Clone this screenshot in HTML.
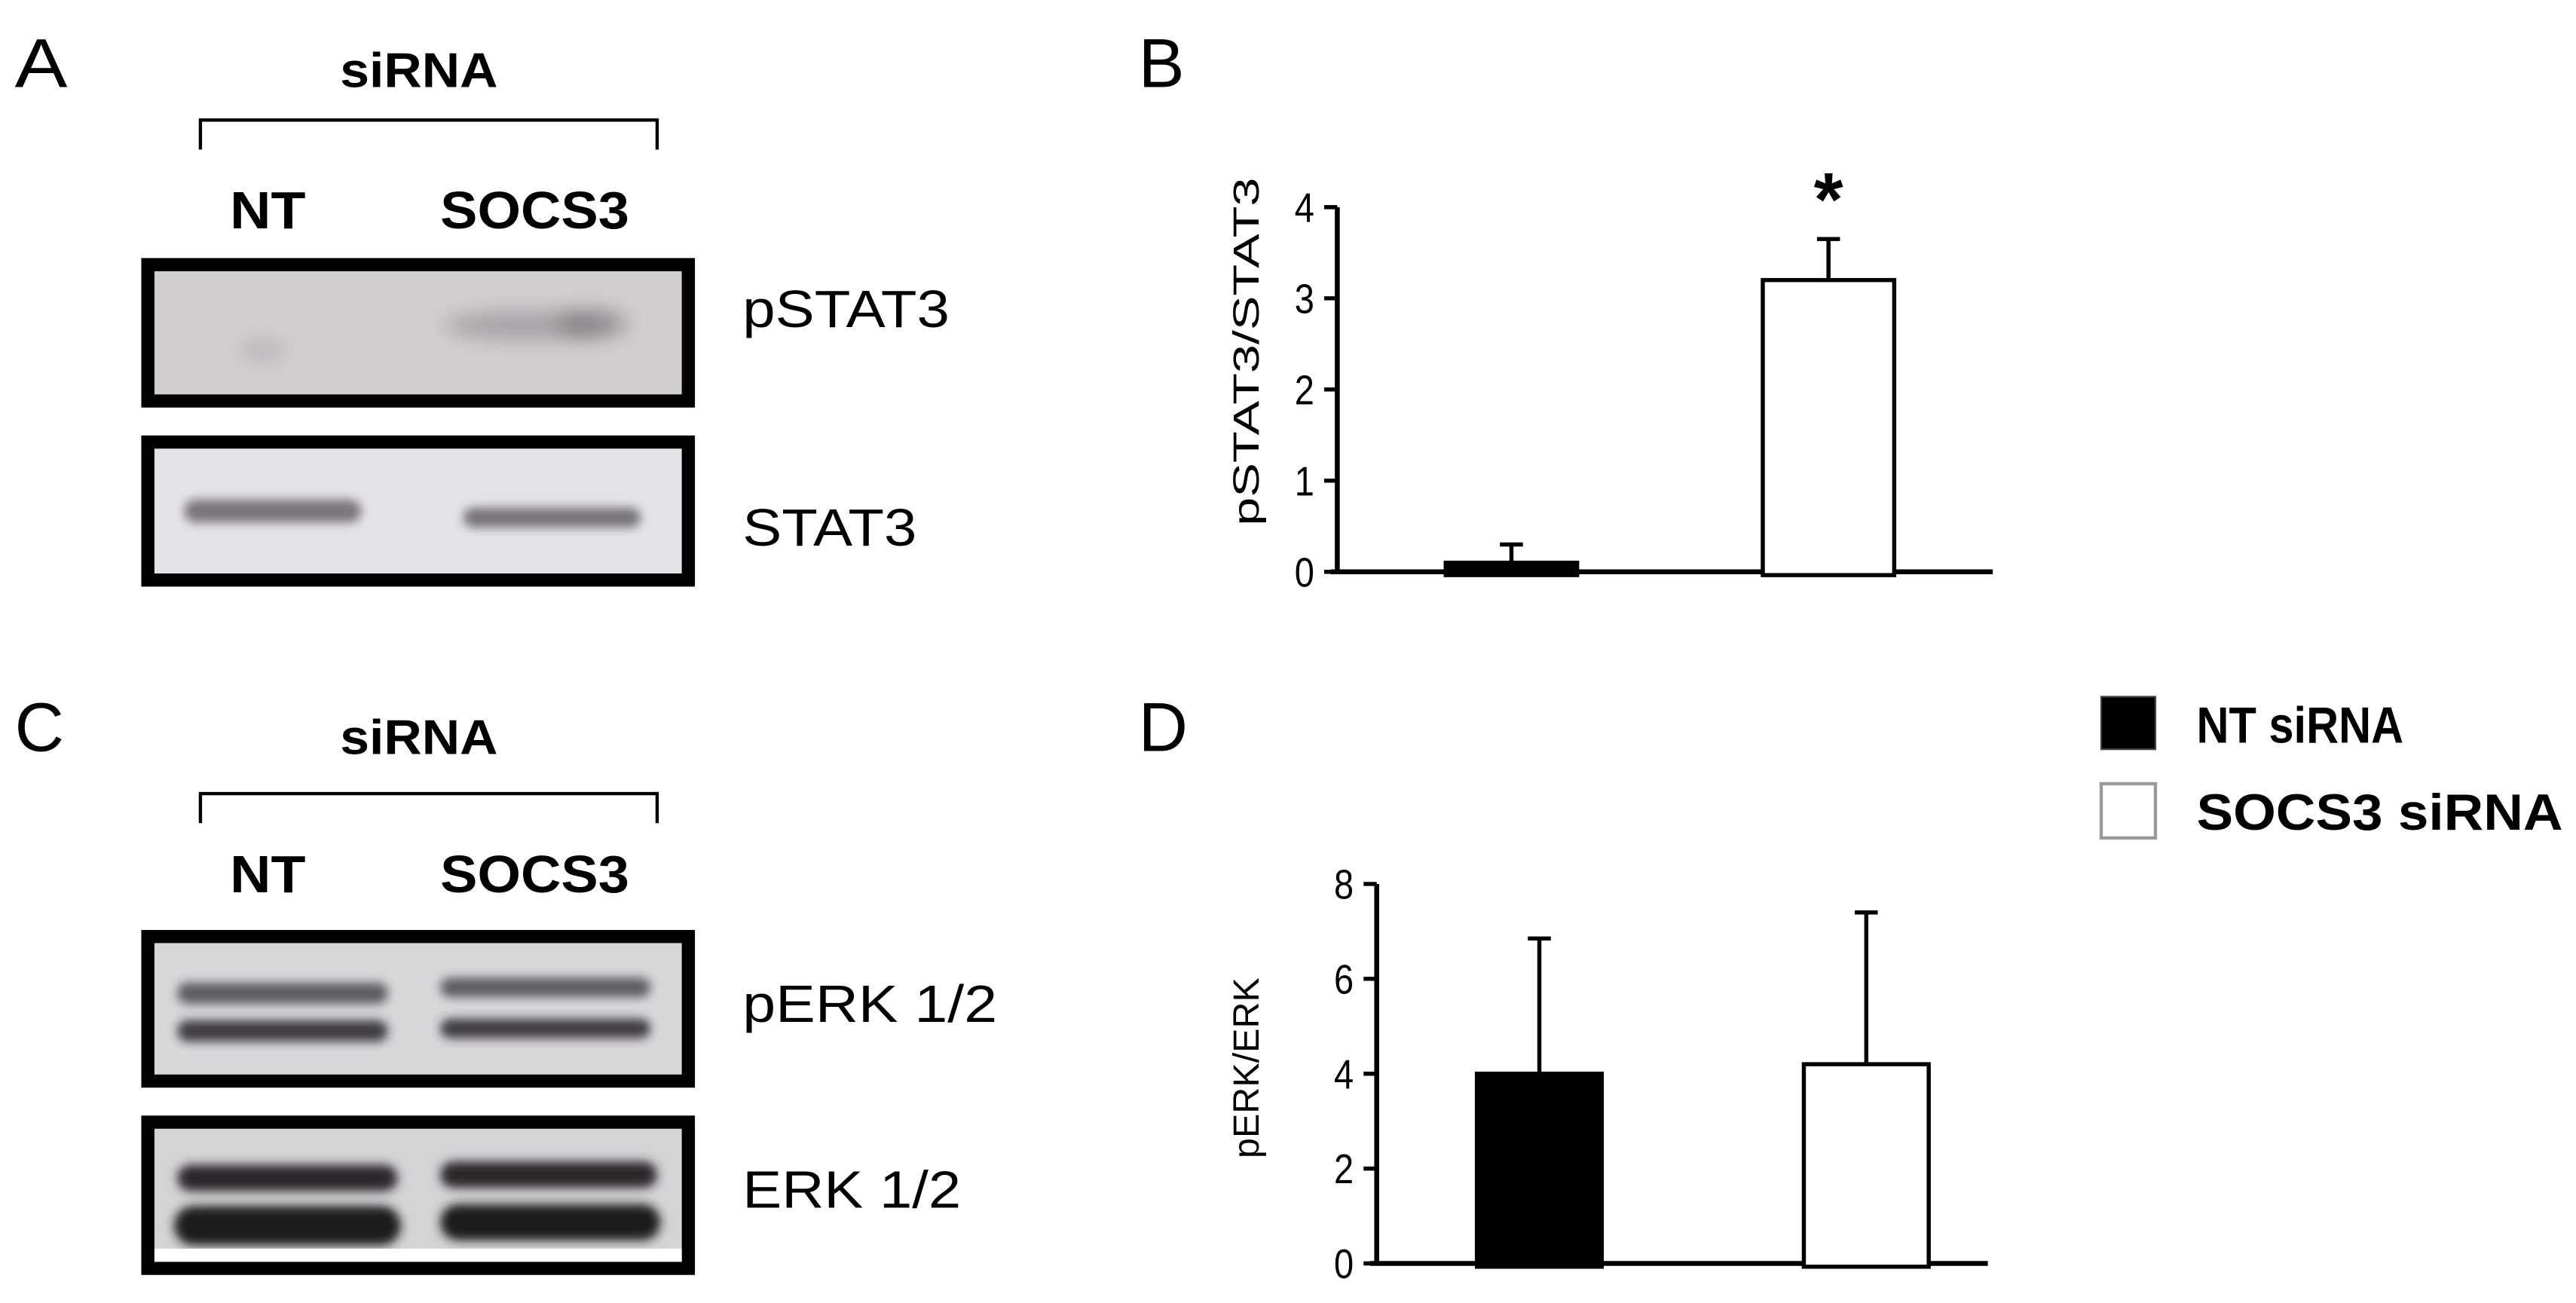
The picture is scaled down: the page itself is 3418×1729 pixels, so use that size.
<!DOCTYPE html>
<html><head><meta charset="utf-8">
<style>
html,body{margin:0;padding:0;background:#fff;}
svg{display:block;}
text{font-family:"Liberation Sans",sans-serif;fill:#000;}
</style></head>
<body>
<svg id="fig" width="3418" height="1729" viewBox="0 0 1568 793" xmlns="http://www.w3.org/2000/svg">
<defs>
<filter id="blur3" x="-20%" y="-50%" width="140%" height="200%"><feGaussianBlur stdDeviation="3"/></filter>
<filter id="blur5" x="-20%" y="-80%" width="140%" height="260%"><feGaussianBlur stdDeviation="6"/></filter>
</defs>

<!-- Panel A -->
<text x="9" y="53" font-size="42" textLength="32" lengthAdjust="spacingAndGlyphs">A</text>
<text x="207" y="53" font-size="30" font-weight="bold" textLength="96" lengthAdjust="spacingAndGlyphs">siRNA</text>
<path d="M122,91 V73 H400 V91" fill="none" stroke="#000" stroke-width="2"/>
<text x="140" y="139" font-size="32" font-weight="bold" textLength="46" lengthAdjust="spacingAndGlyphs">NT</text>
<text x="268" y="139" font-size="32" font-weight="bold" textLength="115" lengthAdjust="spacingAndGlyphs">SOCS3</text>
<g>
<rect x="90" y="161" width="329" height="83" fill="#d2cdd1" stroke="#000" stroke-width="8"/>
<ellipse cx="320" cy="198" rx="50" ry="9" fill="#8d878c" opacity="0.6" filter="url(#blur5)"/>
<ellipse cx="360" cy="197" rx="22" ry="8" fill="#6f696e" opacity="0.6" filter="url(#blur5)"/>
<ellipse cx="160" cy="213" rx="14" ry="6" fill="#a9a3a8" opacity="0.6" filter="url(#blur5)"/>
</g>
<text x="452" y="199" font-size="32" textLength="126" lengthAdjust="spacingAndGlyphs">pSTAT3</text>
<g>
<rect x="90" y="269" width="329" height="84" fill="#e5e3e8" stroke="#000" stroke-width="8"/>
<rect x="112" y="304" width="108" height="14" rx="7" fill="#5e5a60" opacity="0.8" filter="url(#blur3)"/>
<rect x="282" y="309" width="108" height="12" rx="6" fill="#5a565c" opacity="0.8" filter="url(#blur3)"/>
</g>
<text x="452" y="332" font-size="32" textLength="106" lengthAdjust="spacingAndGlyphs">STAT3</text>

<!-- Panel C -->
<text x="9" y="457" font-size="42" textLength="30" lengthAdjust="spacingAndGlyphs">C</text>
<text x="207" y="459" font-size="30" font-weight="bold" textLength="96" lengthAdjust="spacingAndGlyphs">siRNA</text>
<path d="M122,501 V483 H400 V501" fill="none" stroke="#000" stroke-width="2"/>
<text x="140" y="543" font-size="32" font-weight="bold" textLength="46" lengthAdjust="spacingAndGlyphs">NT</text>
<text x="268" y="543" font-size="32" font-weight="bold" textLength="115" lengthAdjust="spacingAndGlyphs">SOCS3</text>
<g>
<rect x="90" y="570" width="329" height="88" fill="#d9d7da" stroke="#000" stroke-width="8"/>
<rect x="108" y="598" width="128" height="13" rx="6" fill="#4a464c" opacity="0.85" filter="url(#blur3)"/>
<rect x="268" y="595" width="128" height="12" rx="6" fill="#4a464c" opacity="0.85" filter="url(#blur3)"/>
<rect x="108" y="621" width="128" height="13" rx="6" fill="#2e2a30" opacity="0.9" filter="url(#blur3)"/>
<rect x="268" y="620" width="128" height="12" rx="6" fill="#2e2a30" opacity="0.9" filter="url(#blur3)"/>
</g>
<text x="452" y="622" font-size="32" textLength="155" lengthAdjust="spacingAndGlyphs">pERK 1/2</text>
<g>
<rect x="90" y="683" width="329" height="89" fill="#d5d3d6" stroke="#000" stroke-width="8"/>
<rect x="108" y="709" width="134" height="16" rx="8" fill="#2a262a" filter="url(#blur3)"/>
<rect x="268" y="707" width="132" height="16" rx="8" fill="#2a262a" filter="url(#blur3)"/>
<rect x="106" y="734" width="138" height="24" rx="12" fill="#1e1a1e" filter="url(#blur3)"/>
<rect x="268" y="733" width="134" height="22" rx="11" fill="#1e1a1e" filter="url(#blur3)"/>
<rect x="94" y="760" width="321" height="8" fill="#fff"/>
</g>
<text x="452" y="735" font-size="32" textLength="133" lengthAdjust="spacingAndGlyphs">ERK 1/2</text>

<!-- Panel labels B, D -->
<text x="693" y="53" font-size="42" textLength="28" lengthAdjust="spacingAndGlyphs">B</text>
<text x="693" y="457" font-size="42" textLength="30" lengthAdjust="spacingAndGlyphs">D</text>

<!-- Legend -->
<g>
<rect x="1279" y="424" width="33" height="32" fill="#000" stroke="#444" stroke-width="1"/>
<text x="1337" y="452" font-size="31" font-weight="bold" textLength="126" lengthAdjust="spacingAndGlyphs">NT siRNA</text>
<rect x="1279" y="477" width="33" height="33" fill="#fff" stroke="#999" stroke-width="2"/>
<text x="1337" y="505" font-size="31" font-weight="bold" textLength="223" lengthAdjust="spacingAndGlyphs">SOCS3 siRNA</text>
</g>

<g id="chartB"></g>
<g id="chartD"></g>
</svg>
<script>
const bCategories = ["NT siRNA", "SOCS3 siRNA"];
const bValues = [0.1, 3.2];
const bErrors = [0.2, 0.45];
const bTicks = [0, 1, 2, 3, 4];
const dCategories = ["NT siRNA", "SOCS3 siRNA"];
const dValues = [4.0, 4.2];
const dErrors = [2.85, 3.2];
const dTicks = [0, 2, 4, 6, 8];
const barFills = ["#000", "#fff"];

const NS = "http://www.w3.org/2000/svg";
function mk(parent, tag, attrs) {
  const el = document.createElementNS(NS, tag);
  for (const k in attrs) el.setAttribute(k, attrs[k]);
  parent.appendChild(el);
  return el;
}
function drawChart(g, cfg) {
  const y = v => cfg.y0 - (v - cfg.min) / (cfg.max - cfg.min) * (cfg.y0 - cfg.y1);
  const axis = mk(g, "path", {d: `M${cfg.ax},${cfg.y1} V${cfg.y0} M${cfg.ax - 4},${cfg.y0} H${cfg.xEnd}`, stroke: "#000", "stroke-width": 3, fill: "none"});
  
  
  cfg.ticks.forEach(t => {
    const tk = mk(g, "line", {x1: cfg.ax - 8, x2: cfg.ax, y1: y(t), y2: y(t), stroke: "#000", "stroke-width": 2.5});
    
    
    const tl = mk(g, "text", {x: cfg.ax - 14, y: y(t) + 9, "font-size": 25, "text-anchor": "end", textLength: 12, lengthAdjust: "spacingAndGlyphs"});
    tl.textContent = t;
    
    
  });
  const title = mk(g, "text", {x: 0, y: 0, "font-size": 22, "text-anchor": "middle", textLength: cfg.titleLen, lengthAdjust: "spacingAndGlyphs", transform: `translate(${cfg.titleX},${cfg.titleY}) rotate(-90)`});
  title.textContent = cfg.title;
  
  
  cfg.values.forEach((v, i) => {
    const x = cfg.barX[i];
    const ey = y(v + cfg.errors[i]);
    const err = mk(g, "path", {d: `M${x + cfg.bw / 2},${y(v)} V${ey} M${x + cfg.bw / 2 - 7},${ey} H${x + cfg.bw / 2 + 7}`, stroke: "#000", "stroke-width": 2.5, fill: "none"});
    
    
    const bar = mk(g, "rect", {x: x, y: y(v), width: cfg.bw, height: Math.max(cfg.y0 - y(v), 0) + 2, fill: barFills[i], stroke: "#000", "stroke-width": 2.5});
    
    
  });
}
drawChart(document.getElementById("chartB"), {
  ax: 814, y0: 348, y1: 126, min: 0, max: 4, xEnd: 1213, ticks: bTicks,
  values: bValues, errors: bErrors, cats: bCategories, barX: [880, 1073], bw: 80,
  title: "pSTAT3/STAT3", titleX: 766, titleY: 214, titleLen: 212
});
drawChart(document.getElementById("chartD"), {
  ax: 838, y0: 769, y1: 538, min: 0, max: 8, xEnd: 1210, ticks: dTicks,
  values: dValues, errors: dErrors, cats: dCategories, barX: [899, 1098], bw: 76,
  title: "pERK/ERK", titleX: 766, titleY: 650, titleLen: 110
});
const star = document.createElementNS(NS, "text");
star.setAttribute("x", 1113); star.setAttribute("y", 137);
star.setAttribute("font-size", 46); star.setAttribute("font-weight", "bold");
star.setAttribute("text-anchor", "middle");
star.textContent = "*";


document.getElementById("chartB").appendChild(star);
</script>
</body></html>
